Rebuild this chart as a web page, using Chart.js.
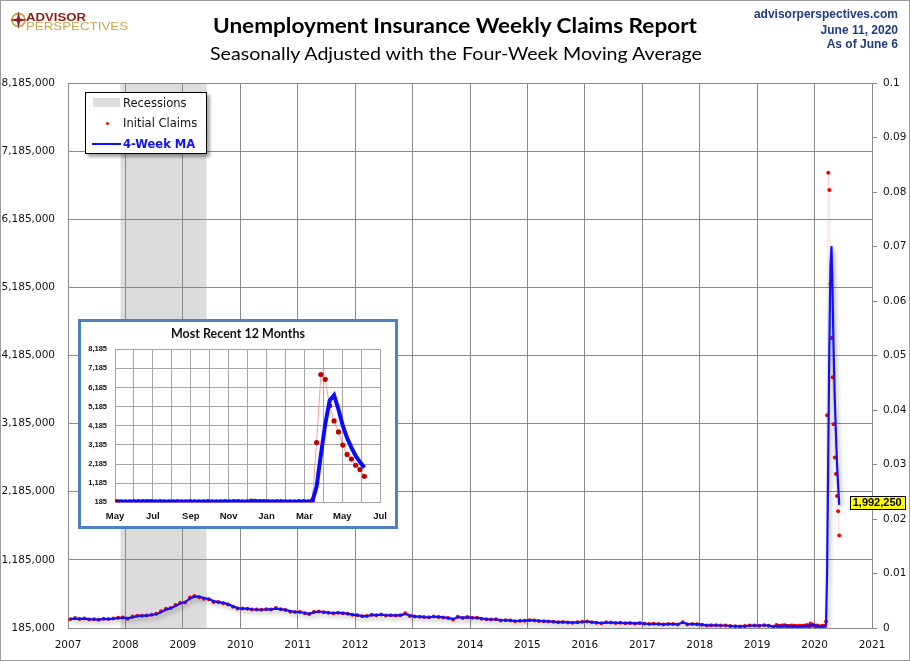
<!DOCTYPE html>
<html>
<head>
<meta charset="utf-8">
<script src="https://cdn.jsdelivr.net/npm/chart.js@4.4.1/dist/chart.umd.min.js"></script>
<style>
  html, body { margin: 0; padding: 0; background: #fff; }
  #wrap { position: relative; width: 910px; height: 661px; overflow: hidden; background: #fff; }
  #main { position: absolute; left: 0; top: 0; }
  #header { position: absolute; left: 0; top: 0; }
  #frame { position: absolute; left: 0; top: 0; width: 910px; height: 661px; box-sizing: border-box;
           border: 1px solid #9c9c9c; pointer-events: none; }
  #legend { position: absolute; left: 85px; top: 92px; width: 120px; height: 60px; background: #fff;
            border: 1px solid #000; box-shadow: 3px 3px 3px rgba(0,0,0,0.35);
            font: 11.5px "DejaVu Sans", sans-serif; color: #111; }
  #legend .row { position: absolute; left: 0; height: 14px; line-height: 14px; }
  #legend .txt { position: absolute; left: 37px; top: 0; white-space: nowrap; }
  #inset { position: absolute; left: 78px; top: 319px; width: 320px; height: 210px; box-sizing: border-box;
           border: 3px solid #4f81bd; background: #fff; }
  #insetChart { position: absolute; left: 0; top: 0; }
  #insetTitle { position: absolute; left: 0; width: 314px; top: 4px; text-align: center;
                font: bold 12.5px Lato, sans-serif; color: #111; }
</style>
</head>
<body>
<div id="wrap">
  <canvas id="main" width="910" height="661"></canvas>

  <svg id="header" width="910" height="75">
    <circle cx="18.5" cy="20" r="6.5" fill="none" stroke="#c9a54e" stroke-width="1.8"/>
    <path d="M18.5 11 L20 18.5 L27.5 20 L20 21.5 L18.5 29 L17 21.5 L9.5 20 L17 18.5 Z" fill="#8b1c1c"/>
    <text x="26" y="20.5" font-family="Liberation Sans" font-weight="bold" font-size="11.5" fill="#8b1c1c"
          textLength="60" lengthAdjust="spacingAndGlyphs">ADVISOR</text>
    <text x="26" y="30" font-family="Liberation Sans" font-size="11" fill="#c9a54e"
          textLength="102" lengthAdjust="spacingAndGlyphs">PERSPECTIVES</text>
    <text x="455" y="33" text-anchor="middle" font-family="Lato" font-weight="bold" font-size="20" fill="#000"
          textLength="484" lengthAdjust="spacingAndGlyphs">Unemployment Insurance Weekly Claims Report</text>
    <text x="456" y="59.5" text-anchor="middle" font-family="Lato" font-size="18" fill="#000"
          textLength="492" lengthAdjust="spacingAndGlyphs">Seasonally Adjusted with the Four-Week Moving Average</text>
    <text x="898" y="17.5" text-anchor="end" font-family="Liberation Sans" font-weight="bold" font-size="12" fill="#1f3d7a">advisorperspectives.com</text>
    <text x="898" y="33.5" text-anchor="end" font-family="Liberation Sans" font-weight="bold" font-size="12" fill="#1f3d7a">June 11, 2020</text>
    <text x="898" y="48" text-anchor="end" font-family="Liberation Sans" font-weight="bold" font-size="12" fill="#1f3d7a">As of June 6</text>
  </svg>

  <div id="legend">
    <div class="row" style="top:3px;width:120px;">
      <span style="position:absolute;left:7px;top:2px;width:27px;height:9px;background:#dcdcdc;"></span>
      <span class="txt">Recessions</span>
    </div>
    <div class="row" style="top:23px;width:120px;">
      <span style="position:absolute;left:19.5px;top:5.5px;width:3px;height:3px;border-radius:50%;background:#ff0000;"></span>
      <span class="txt">Initial Claims</span>
    </div>
    <div class="row" style="top:44px;width:120px;">
      <span style="position:absolute;left:6px;top:6px;width:29px;height:2px;background:#1010ff;"></span>
      <span class="txt" style="font-weight:bold;color:#1010ff;">4-Week MA</span>
    </div>
  </div>

  <div id="inset">
    <canvas id="insetChart" width="314" height="204"></canvas>
    <div id="insetTitle">Most Recent 12 Months</div>
  </div>

  <div id="frame"></div>
</div>

<script>
// ---- data (claims in thousands) ----

// monthly averages, Jan 2007 .. Apr 2019
const monthlyStartYear = 2007;
const monthlyClaims = [
  312, 330, 316, 325, 308, 313, 305, 320, 316, 325, 334, 340,   // 2007
  322, 352, 366, 365, 369, 381, 393, 430, 466, 479, 522, 555,   // 2008
  560, 631, 653, 638, 616, 606, 565, 566, 548, 530, 497, 471,   // 2009
  471, 469, 457, 456, 452, 460, 456, 477, 459, 451, 424, 420,   // 2010
  420, 400, 392, 423, 428, 418, 409, 403, 409, 401, 396, 378,   // 2011
  372, 357, 360, 380, 373, 384, 369, 371, 370, 371, 403, 360,   // 2012
  353, 351, 345, 341, 352, 345, 339, 331, 310, 350, 333, 345,   // 2013
  334, 336, 320, 314, 308, 314, 296, 300, 295, 284, 292, 292,   // 2014
  298, 296, 288, 284, 280, 277, 269, 274, 267, 263, 269, 275,   // 2015
  282, 268, 263, 254, 269, 266, 258, 263, 254, 258, 251, 259,   // 2016
  246, 243, 247, 243, 237, 244, 245, 238, 271, 237, 243, 241,   // 2017
  231, 222, 225, 225, 221, 222, 213, 212, 206, 213, 222, 220,   // 2018
  219, 227, 218, 202                                            // 2019
];
const monthlyMA = [
  318, 322, 320, 322, 314, 312, 309, 315, 316, 321, 330, 337,
  330, 340, 360, 366, 366, 376, 388, 415, 455, 475, 508, 545,
  565, 615, 648, 646, 625, 610, 580, 565, 555, 535, 505, 477,
  468, 468, 460, 456, 453, 458, 457, 470, 463, 452, 432, 421,
  420, 405, 394, 414, 427, 420, 411, 405, 408, 402, 397, 382,
  374, 360, 360, 375, 375, 381, 372, 370, 371, 370, 392, 370,
  356, 352, 346, 342, 350, 347, 340, 333, 315, 344, 338, 342,
  337, 335, 324, 316, 310, 313, 300, 299, 296, 287, 290, 293,
  297, 296, 290, 285, 281, 278, 272, 273, 268, 264, 268, 273,
  280, 271, 265, 257, 265, 266, 260, 262, 256, 257, 253, 257,
  249, 244, 246, 244, 239, 243, 244, 240, 265, 245, 242, 241,
  234, 225, 225, 225, 222, 222, 215, 213, 208, 212, 220, 220,
  220, 225, 219, 207
];

// weekly, most recent 12+ months
const recentDates = [
  '2019-05-04','2019-05-11','2019-05-18','2019-05-25',
  '2019-06-01','2019-06-08','2019-06-15','2019-06-22','2019-06-29',
  '2019-07-06','2019-07-13','2019-07-20','2019-07-27',
  '2019-08-03','2019-08-10','2019-08-17','2019-08-24','2019-08-31',
  '2019-09-07','2019-09-14','2019-09-21','2019-09-28',
  '2019-10-05','2019-10-12','2019-10-19','2019-10-26',
  '2019-11-02','2019-11-09','2019-11-16','2019-11-23','2019-11-30',
  '2019-12-07','2019-12-14','2019-12-21','2019-12-28',
  '2020-01-04','2020-01-11','2020-01-18','2020-01-25',
  '2020-02-01','2020-02-08','2020-02-15','2020-02-22','2020-02-29',
  '2020-03-07','2020-03-14','2020-03-21','2020-03-28',
  '2020-04-04','2020-04-11','2020-04-18','2020-04-25',
  '2020-05-02','2020-05-09','2020-05-16','2020-05-23','2020-05-30',
  '2020-06-06'
];
const recentClaims = [
  228, 212, 211, 215,
  219, 222, 216, 227, 222,
  209, 216, 206, 215,
  209, 220, 209, 215, 217,
  204, 208, 213, 219,
  210, 214, 213, 217,
  211, 225, 227, 213, 203,
  252, 235, 222, 224,
  212, 204, 223, 216,
  203, 205, 211, 219, 216,
  211, 282, 3307, 6867,
  6615, 5237, 4442, 3867,
  3176, 2687, 2446, 2123, 1897,
  1542
];
const recentMA = [
  221, 219, 217, 217,
  214, 217, 218, 221, 222,
  219, 219, 213, 212,
  212, 213, 213, 213, 215,
  211, 211, 211, 211,
  213, 214, 214, 214,
  214, 217, 220, 219, 217,
  224, 228, 228, 233,
  223, 216, 216, 214,
  212, 212, 209, 210, 213,
  214, 232, 1004, 2667,
  4268, 5507, 5790, 5040,
  4181, 3543, 3044, 2608, 2288,
  1992.25
];

const recessionStart = '2007-12-01';
const recessionEnd = '2009-06-01';

// axis ticks
const yearTicks = [2007, 2008, 2009, 2010, 2011, 2012, 2013, 2014, 2015, 2016, 2017, 2018, 2019, 2020, 2021];
const leftTicks = [185000, 1185000, 2185000, 3185000, 4185000, 5185000, 6185000, 7185000, 8185000];
const rightTicks = [0, 0.01, 0.02, 0.03, 0.04, 0.05, 0.06, 0.07, 0.08, 0.09, 0.1];
const rightTickLabels = ['0', '0.01', '0.02', '0.03', '0.04', '0.05', '0.06', '0.07', '0.08', '0.09', '0.1'];
const insetTicks = [185, 1185, 2185, 3185, 4185, 5185, 6185, 7185, 8185];
const insetMonths = ['May','Jun','Jul','Aug','Sep','Oct','Nov','Dec','Jan','Feb','Mar','Apr','May','Jun','Jul'];

// ---- helpers ----
function toYear(s) {
  const [y, m, d] = s.split('-').map(Number);
  const start = Date.UTC(y, 0, 1), end = Date.UTC(y + 1, 0, 1);
  return y + (Date.UTC(y, m - 1, d) - start) / (end - start);
}
function monthX(i) {
  const y = monthlyStartYear + Math.floor(i / 12);
  const m = String(i % 12 + 1).padStart(2, '0');
  return toYear(`${y}-${m}-15`);
}
function monthsSinceMay2019(s) {
  const [y, m, d] = s.split('-').map(Number);
  const dim = new Date(Date.UTC(y, m, 0)).getUTCDate();
  return (y - 2019) * 12 + (m - 1) - 4 + (d - 1) / dim;
}

const gridGray = '#8a8a8a';
const tickFont = { family: 'DejaVu Sans', size: 10.5 };

const mainClaims = monthlyClaims.map((v, i) => ({ x: monthX(i), y: v * 1000 }))
  .concat(recentDates.map((d, i) => ({ x: toYear(d), y: recentClaims[i] * 1000 })));
const mainMA = monthlyMA.map((v, i) => ({ x: monthX(i), y: v * 1000 }))
  .concat(recentDates.map((d, i) => ({ x: toYear(d), y: recentMA[i] * 1000 })));

// recession shading, drawn under the grid
const recessionBand = {
  id: 'recessionBand',
  beforeDraw(chart) {
    const { ctx, chartArea, scales } = chart;
    const x0 = scales.x.getPixelForValue(toYear(recessionStart));
    const x1 = scales.x.getPixelForValue(toYear(recessionEnd));
    ctx.save();
    ctx.fillStyle = '#dcdcdc';
    ctx.fillRect(x0, chartArea.top, x1 - x0, chartArea.bottom - chartArea.top);
    ctx.restore();
  }
};

// soft shadow under the moving average line
const maShadow = {
  id: 'maShadow',
  beforeDatasetDraw(chart, args) {
    if (args.index !== 0) return;
    const ctx = chart.ctx;
    ctx.save();
    ctx.shadowColor = 'rgba(0,0,0,0.3)';
    ctx.shadowBlur = 4;
    ctx.shadowOffsetX = 2;
    ctx.shadowOffsetY = 3;
  },
  afterDatasetDraw(chart, args) {
    if (args.index !== 0) return;
    chart.ctx.restore();
  }
};

// yellow call-out with the latest 4-week average
const lastValueLabel = {
  id: 'lastValueLabel',
  afterDatasetsDraw(chart) {
    const meta = chart.getDatasetMeta(0);
    const pt = meta.data[meta.data.length - 1];
    const v = mainMA[mainMA.length - 1].y;
    const text = v.toLocaleString('en-US', { maximumFractionDigits: 0 });
    const ctx = chart.ctx;
    ctx.save();
    ctx.font = 'bold 11px "Liberation Sans"';
    const w = ctx.measureText(text).width + 6;
    const h = 13;
    const bx = pt.x + 10.5, by = pt.y - 2 - h / 2;
    ctx.fillStyle = '#ffff00';
    ctx.fillRect(bx, by, w, h);
    ctx.strokeStyle = '#000';
    ctx.lineWidth = 1;
    ctx.strokeRect(Math.round(bx) + 0.5, Math.round(by) + 0.5, Math.round(w), h);
    ctx.fillStyle = '#000';
    ctx.textBaseline = 'middle';
    ctx.fillText(text, bx + 3, by + h / 2 + 0.5);
    ctx.restore();
  }
};

new Chart(document.getElementById('main').getContext('2d'), {
  type: 'line',
  data: {
    datasets: [
      {
        label: '4-Week MA',
        data: mainMA,
        borderColor: '#1010ff',
        borderWidth: 2.2,
        pointRadius: 0,
        tension: 0,
        order: 0,
        yAxisID: 'y'
      },
      {
        label: 'Initial Claims',
        data: mainClaims,
        borderColor: 'rgba(255,110,110,0.25)',
        borderWidth: 1,
        pointRadius: 2,
        pointBackgroundColor: '#ff0000',
        pointBorderWidth: 0,
        tension: 0,
        order: 1,
        yAxisID: 'y'
      }
    ]
  },
  options: {
    responsive: false,
    devicePixelRatio: 1,
    animation: false,
    layout: { padding: { top: 83, left: 0, right: 0, bottom: 0 } },
    plugins: { legend: { display: false }, tooltip: { enabled: false } },
    scales: {
      x: {
        type: 'linear', min: 2007, max: 2021,
        afterBuildTicks: (s) => { s.ticks = yearTicks.map(v => ({ value: v })); },
        afterFit: (s) => { s.height = 33; },
        ticks: { callback: (v) => String(v), font: tickFont, color: '#111', padding: 11, maxRotation: 0, autoSkip: false },
        grid: { color: gridGray, drawTicks: false },
        border: { color: gridGray }
      },
      y: {
        type: 'linear', position: 'left', min: 185000, max: 8185000,
        afterBuildTicks: (s) => { s.ticks = leftTicks.map(v => ({ value: v })); },
        afterFit: (s) => { s.width = 68; },
        ticks: { callback: (v) => v.toLocaleString('en-US'), font: tickFont, color: '#111', padding: 13 },
        grid: { color: gridGray, drawTicks: false },
        border: { color: gridGray }
      },
      y2: {
        type: 'linear', position: 'right', min: 0, max: 0.1,
        afterBuildTicks: (s) => { s.ticks = rightTicks.map(v => ({ value: v })); },
        afterFit: (s) => { s.width = 38; },
        ticks: { callback: (v, i) => rightTickLabels[i], font: tickFont, color: '#111', padding: 6 },
        grid: { drawOnChartArea: false, color: gridGray, tickLength: 5 },
        border: { color: gridGray }
      }
    }
  },
  plugins: [recessionBand, maShadow, lastValueLabel]
});

// ---- inset: most recent 12 months ----
const insetClaims = recentDates.map((d, i) => ({ x: monthsSinceMay2019(d), y: recentClaims[i] }));
const insetMA = recentDates.map((d, i) => ({ x: monthsSinceMay2019(d), y: recentMA[i] }));
const insetGray = '#a6a6a6';

new Chart(document.getElementById('insetChart').getContext('2d'), {
  type: 'line',
  data: {
    datasets: [
      {
        label: '4-Week MA',
        data: insetMA,
        borderColor: '#0a0aff',
        borderWidth: 4,
        pointRadius: 0,
        tension: 0,
        order: 0
      },
      {
        label: 'Initial Claims',
        data: insetClaims,
        borderColor: '#f0a0a0',
        borderWidth: 1,
        pointRadius: 2.6,
        pointBackgroundColor: '#c00000',
        pointBorderWidth: 0,
        tension: 0,
        order: 1
      }
    ]
  },
  options: {
    responsive: false,
    devicePixelRatio: 1,
    animation: false,
    layout: { padding: { top: 27.3, left: 0, right: 12.7, bottom: 0 } },
    plugins: { legend: { display: false }, tooltip: { enabled: false } },
    scales: {
      x: {
        type: 'linear', min: 0, max: 14,
        afterBuildTicks: (s) => { s.ticks = insetMonths.map((_, i) => ({ value: i })); },
        afterFit: (s) => { s.height = 23.7; },
        ticks: {
          callback: (v, i) => (i % 2 === 0 ? insetMonths[i] : ''),
          font: { family: 'Liberation Sans', size: 9.5, weight: 'bold' }, color: '#111',
          padding: 8, maxRotation: 0, autoSkip: false
        },
        grid: { color: insetGray, drawTicks: false },
        border: { color: insetGray }
      },
      y: {
        type: 'linear', min: 185, max: 8185,
        afterBuildTicks: (s) => { s.ticks = insetTicks.map(v => ({ value: v })); },
        afterFit: (s) => { s.width = 34; },
        ticks: {
          callback: (v) => v.toLocaleString('en-US'),
          font: { family: '"Liberation Sans Narrow", "Liberation Sans"', size: 7.5, weight: 'bold' }, color: '#111',
          padding: 8
        },
        grid: { color: insetGray, drawTicks: false },
        border: { color: insetGray }
      }
    }
  }
});
</script>
</body>
</html>
